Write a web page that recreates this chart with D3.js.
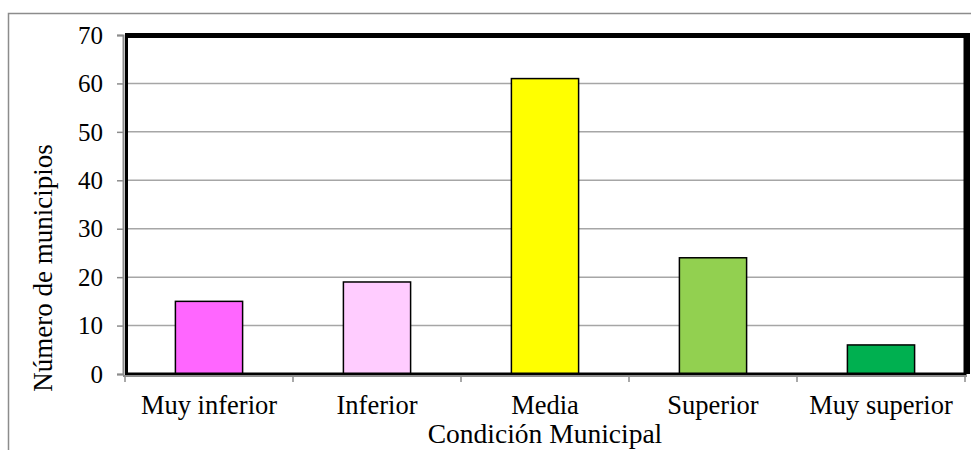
<!DOCTYPE html>
<html>
<head>
<meta charset="utf-8">
<script src="https://cdn.jsdelivr.net/npm/d3@7"></script>
<style>
  body { margin: 0; background: #fff; }
  text { font-family: "Liberation Serif", "Times New Roman", serif; fill: #000; }
</style>
</head>
<body>
<script>
// chart data
var categories = ["Muy inferior", "Inferior", "Media", "Superior", "Muy superior"];
var values = [15, 19, 61, 24, 6];
var barColors = ["#FF66FF", "#FFCCFF", "#FFFF00", "#92D050", "#00B050"];
var yTicks = [0, 10, 20, 30, 40, 50, 60, 70];

var W = 971, H = 450;
var plot = {left: 125, top: 35, right: 965, bottom: 374};

var svg = d3.select("body").append("svg")
	.attr("width", W)
	.attr("height", H);

// outer chart frame
svg.append("rect")
	.attr("x", 8.5).attr("y", 13.5)
	.attr("width", 975).attr("height", 460)
	.attr("fill", "none")
	.attr("stroke", "#8c8c8c")
	.attr("stroke-width", 1.5);

var x = d3.scaleBand()
	.domain(categories)
	.range([plot.left, plot.right])
	.paddingInner(0.6)
	.paddingOuter(0.3);

// band boundaries for category ticks
var step = (plot.right - plot.left) / categories.length;

var y = d3.scaleLinear()
	.domain([0, 70])
	.range([plot.bottom, plot.top]);

// gridlines
svg.append("g")
	.selectAll("line")
	.data(yTicks.slice(1))
	.enter().append("line")
	.attr("x1", plot.left).attr("x2", plot.right)
	.attr("y1", function(d) { return y(d); })
	.attr("y2", function(d) { return y(d); })
	.attr("stroke", "#a6a6a6")
	.attr("stroke-width", 1.5);

// bars
svg.append("g")
	.selectAll("rect")
	.data(values)
	.enter().append("rect")
	.attr("x", function(d, i) { return x(categories[i]); })
	.attr("y", function(d) { return y(d); })
	.attr("width", x.bandwidth())
	.attr("height", function(d) { return y(0) - y(d); })
	.attr("fill", function(d, i) { return barColors[i]; })
	.attr("stroke", "#000")
	.attr("stroke-width", 1.5);

// plot area border
svg.append("rect")
	.attr("x", plot.left + 1.5).attr("y", plot.top)
	.attr("width", plot.right - plot.left - 1.5)
	.attr("height", plot.bottom - plot.top)
	.attr("fill", "none")
	.attr("stroke", "#000")
	.attr("stroke-width", 3);
svg.append("path")
	.attr("d", "M" + (plot.left) + "," + (plot.top + 0.5) + "H" + (plot.right + 2.5) + "V" + plot.bottom)
	.attr("fill", "none")
	.attr("stroke", "#000")
	.attr("stroke-width", 5);

// y axis
var yAxis = svg.append("g")
	.attr("transform", "translate(" + (plot.left - 2) + ",0)")
	.call(d3.axisLeft(y).tickValues(yTicks).tickSize(6).tickPadding(14))
	.attr("font-family", "Liberation Serif")
	.attr("font-size", 25);
yAxis.select(".domain").attr("stroke", "#8c8c8c").attr("stroke-width", 2);
yAxis.selectAll(".tick line").attr("stroke", "#8c8c8c").attr("stroke-width", 1.5);
yAxis.selectAll(".tick text")
	.attr("dy", "0.33em");

// x axis
var xAxis = svg.append("g")
	.attr("transform", "translate(0," + (plot.bottom + 2) + ")");
xAxis.append("line")
	.attr("x1", plot.left - 2).attr("x2", plot.right + 2)
	.attr("stroke", "#8c8c8c").attr("stroke-width", 2);
xAxis.selectAll(".tk")
	.data(d3.range(categories.length + 1))
	.enter().append("line")
	.attr("class", "tk")
	.attr("x1", function(i) { return plot.left + i * step; })
	.attr("x2", function(i) { return plot.left + i * step; })
	.attr("y1", 0).attr("y2", 6)
	.attr("stroke", "#8c8c8c").attr("stroke-width", 1.5);
xAxis.selectAll(".lab")
	.data(categories)
	.enter().append("text")
	.attr("class", "lab")
	.attr("x", function(d) { return x(d) + x.bandwidth() / 2; })
	.attr("y", 38)
	.attr("text-anchor", "middle")
	.attr("font-size", 26.5)
	.text(function(d) { return d; });

// axis titles
svg.append("text")
	.attr("x", (plot.left + plot.right) / 2)
	.attr("y", 443)
	.attr("text-anchor", "middle")
	.attr("font-size", 27.5)
	.text("Condición Municipal");

svg.append("text")
	.attr("transform", "translate(52," + 268 + ") rotate(-90)")
	.attr("text-anchor", "middle")
	.attr("font-size", 27)
	.text("Número de municipios");
</script>
</body>
</html>
